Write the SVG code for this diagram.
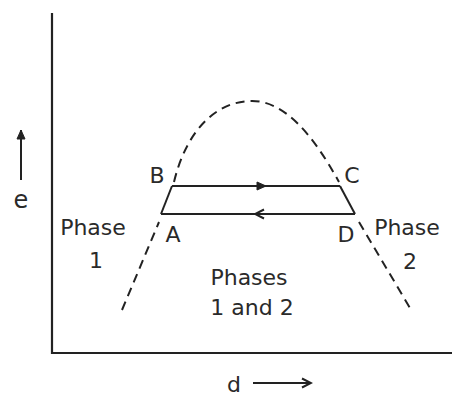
<svg xmlns="http://www.w3.org/2000/svg" width="452" height="396" viewBox="0 0 452 396">
<style>
.ax{stroke:#222;stroke-width:2.2;fill:none}
.sol{stroke:#222;stroke-width:2;fill:none}
.dash{stroke:#222;stroke-width:2;fill:none;stroke-dasharray:9 6}
.t{font-family:"DejaVu Sans","Liberation Sans",sans-serif;font-size:22px;fill:#2a2a2a;text-anchor:middle}
</style>
<defs>
<marker id="chev" viewBox="-10 -6 12 12" refX="0" refY="0" markerWidth="12" markerHeight="12" markerUnits="userSpaceOnUse" orient="auto">
<path d="M-9,-4.5 L0,0 L-9,4.5" fill="none" stroke="#222" stroke-width="2"/>
</marker>
<marker id="tip" viewBox="-10 -6 12 12" refX="0" refY="0" markerWidth="12" markerHeight="12" markerUnits="userSpaceOnUse" orient="auto">
<path d="M-9,-4 L0,0 L-9,4 Z" fill="#222" stroke="#222" stroke-width="1"/>
</marker>
</defs>
<g id="axes">
<path class="ax" d="M52,13 V353 H452"/>
</g>
<g id="curve">
<path class="dash" d="M122,310 L159,222"/>
<path class="dash" d="M174,182 C186,132 215,101 252,101 C285,101 313,135 339,182"/>
<path class="dash" d="M359,222 L410,308"/>
</g>
<g id="connectors">
<path class="sol" d="M172,186 L161,214"/>
<path class="sol" d="M340,186 L355,214"/>
<path class="sol" d="M172,186 H340"/>
<path class="sol" d="M355,214 H161"/>
<path class="sol" d="M172,186 H266" marker-end="url(#tip)"/>
<path class="sol" d="M355,214 H255" marker-end="url(#chev)"/>
<path class="sol" d="M21,180 V130" marker-end="url(#tip)"/>
<path class="sol" d="M253,383 H311" marker-end="url(#chev)"/>
</g>
<g id="labels">
<text class="t" x="157" y="183">B</text>
<text class="t" x="352" y="183">C</text>
<text class="t" x="173" y="242">A</text>
<text class="t" x="346" y="242">D</text>
<text class="t" x="93" y="235">Phase</text>
<text class="t" x="96" y="268">1</text>
<text class="t" x="407" y="235">Phase</text>
<text class="t" x="410" y="269">2</text>
<text class="t" x="249" y="285">Phases</text>
<text class="t" x="252" y="315">1 and 2</text>
<text class="t" x="21" y="208" style="font-size:24px">e</text>
<text class="t" x="234" y="392">d</text>
</g>
</svg>
